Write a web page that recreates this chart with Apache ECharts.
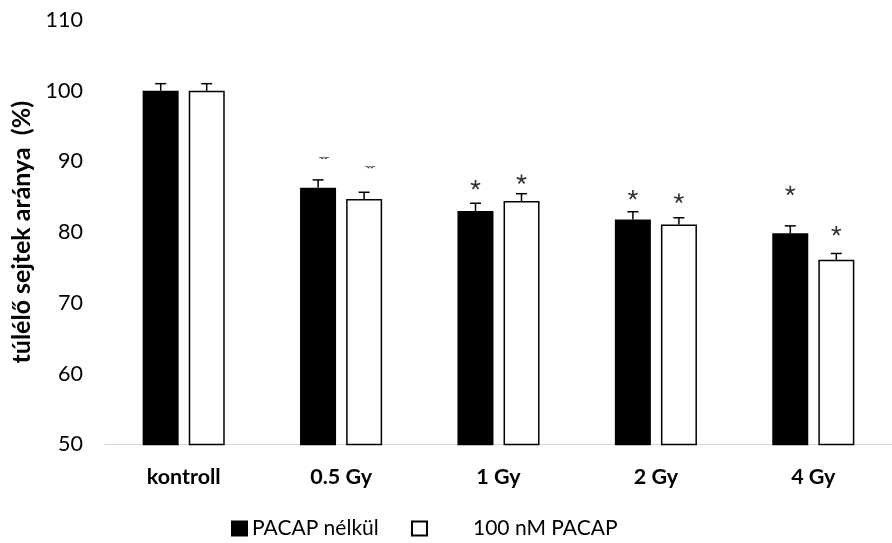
<!DOCTYPE html>
<html><head><meta charset="utf-8">
<script src="https://cdn.jsdelivr.net/npm/echarts@6/dist/echarts.min.js"></script>
<style>html,body{margin:0;padding:0;background:#fff}#c{width:892px;height:543px}</style>
</head><body><div id="c"></div>
<script>
const categories = ['kontroll', '0.5 Gy', '1 Gy', '2 Gy', '4 Gy'];
const seriesNames = ['PACAP nélkül', '100 nM PACAP'];
const pacapNelkul = [100, 86.3, 83.0, 81.8, 79.85];
const pacap100 = [100, 84.7, 84.4, 81.1, 76.1];
const errNelkul = [1.0, 1.1, 1.1, 1.1, 1.05];
const errPacap = [1.0, 0.95, 1.05, 0.95, 0.9];
const starNelkul = [null, 90.5, 86.7, 85.3, 85.9];
const starPacap = [null, 89.2, 87.5, 84.8, 80.2];
const starClipped = [false, true, false, false, false];
const yTicks = [50, 60, 70, 80, 90, 100, 110];

const FONT = 'Lato';
const BAR_W = 36, OFF = 23, CLIP_SHIFT = 6;

function armPoly(a, r, h) {
  const rad = a * Math.PI / 180;
  const dx = Math.sin(rad), dy = -Math.cos(rad);
  const px = Math.cos(rad), py = Math.sin(rad);
  const pts = [[px*h, py*h], [px*h + dx*r, py*h + dy*r], [-px*h + dx*r, -py*h + dy*r], [-px*h, -py*h]];
  return 'M' + pts.map(p => p[0].toFixed(2) + ' ' + p[1].toFixed(2)).join(' L') + ' Z';
}
const starPath = 'path://' + [0, 72, 144, 216, 288].map(a => armPoly(a, 5, 0.85)).join(' ');
const clipPath = 'path://M-4.5 0 L4.5 0 L4.5 1.1 L-4.5 1.1 Z M-0.7 0 L0.7 0 L0.7 1.8 L-0.7 1.8 Z ' + armPoly(144, 3.6, 0.8) + ' ' + armPoly(216, 3.6, 0.8);

function starData(vals, off) {
  return vals.map((v, i) => v == null ? null : {
    value: [i, v],
    symbol: starClipped[i] ? clipPath : starPath,
    symbolSize: starClipped[i] ? [10, 6] : [10, 10],
    symbolOffset: [off + (starClipped[i] ? CLIP_SHIFT : 0), 0]
  });
}

function errSeries(vals, errs, off) {
  return {
    type: 'custom', z: 5, silent: true,
    data: vals.map((v, i) => [i, v, errs[i]]),
    renderItem: function (params, api) {
      const i = api.value(0), v = api.value(1), e = api.value(2);
      const b = api.coord([i, v]), t = api.coord([i, v + e]);
      const x = b[0] + off;
      return { type: 'group', children: [
        { type: 'line', shape: { x1: x, y1: b[1], x2: x, y2: t[1] }, style: { stroke: '#000', lineWidth: 1.5 } },
        { type: 'line', shape: { x1: x - 5.5, y1: t[1], x2: x + 5.5, y2: t[1] }, style: { stroke: '#000', lineWidth: 1.5 } }
      ]};
    }
  };
}

const chart = echarts.init(document.getElementById('c'), null, { renderer: 'canvas' });
chart.setOption({
  animation: false,
  backgroundColor: '#fff',
  grid: { left: 105, top: 20, width: 798, height: 424.5 },
  xAxis: {
    type: 'category', data: categories,
    axisLine: { lineStyle: { color: '#d9d9d9', width: 1 } },
    axisTick: { show: false },
    axisLabel: { margin: 22, color: '#000', fontFamily: FONT, fontWeight: 'bold', fontSize: 21.5 }
  },
  yAxis: {
    type: 'value', min: 50, max: 110, interval: 10,
    splitLine: { show: false }, axisLine: { show: false }, axisTick: { show: false },
    axisLabel: { margin: 22, color: '#000', fontFamily: FONT, fontSize: 21.5 },
    name: 'túlélő sejtek aránya  (%)', nameLocation: 'middle', nameGap: 68,
    nameTextStyle: { color: '#000', fontFamily: FONT, fontWeight: 'bold', fontSize: 25 }
  },
  legend: [
    { data: [seriesNames[0]], left: 231, top: 518, padding: 0, icon: 'rect', itemWidth: 15, itemHeight: 14, itemGap: 0,
      textStyle: { color: '#000', fontFamily: FONT, fontSize: 21, padding: 0 } },
    { data: [seriesNames[1]], left: 411, top: 518, padding: 0, icon: 'rect', itemWidth: 15, itemHeight: 14, itemGap: 0,
      textStyle: { color: '#000', fontFamily: FONT, fontSize: 21, padding: [0, 0, 0, 41] } }
  ],
  series: [
    { name: seriesNames[0], type: 'bar', data: pacapNelkul, barWidth: BAR_W, barGap: '28%',
      itemStyle: { color: '#000', borderColor: '#000', borderWidth: 1.5 } },
    { name: seriesNames[1], type: 'bar', data: pacap100, barWidth: BAR_W, barGap: '28%',
      itemStyle: { color: '#fff', borderColor: '#000', borderWidth: 1.5 } },
    errSeries(pacapNelkul, errNelkul, -OFF),
    errSeries(pacap100, errPacap, OFF),
    { type: 'scatter', z: 6, silent: true, data: starData(starNelkul, -OFF), symbolKeepAspect: true,
      itemStyle: { color: '#000' } },
    { type: 'scatter', z: 6, silent: true, data: starData(starPacap, OFF), symbolKeepAspect: true,
      itemStyle: { color: '#000' } }
  ]
});
</script></body></html>
